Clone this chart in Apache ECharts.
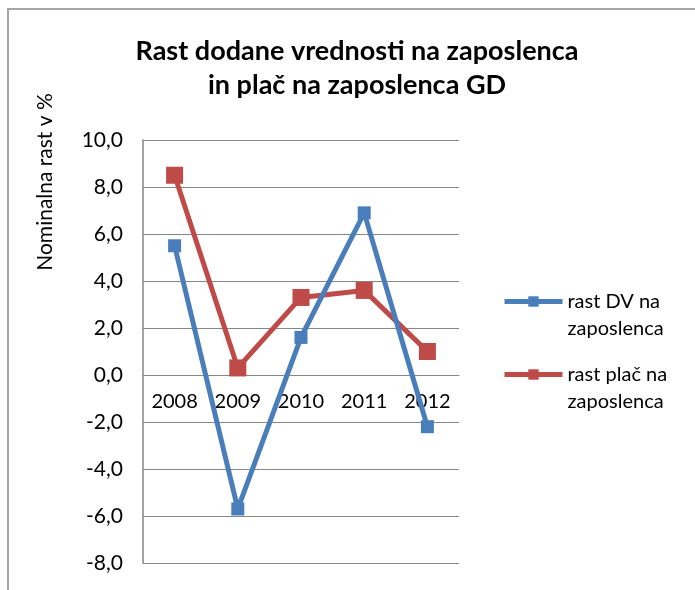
<!DOCTYPE html>
<html>
<head>
<meta charset="utf-8">
<script src="https://cdn.jsdelivr.net/npm/echarts@6/dist/echarts.min.js"></script>
<style>html,body{margin:0;padding:0;background:#fff;}#c{width:695px;height:590px;}</style>
</head>
<body>
<div id="c"></div>
<script>
const titleLines = ['Rast dodane vrednosti na zaposlenca', 'in plač na zaposlenca GD'];
const yAxisTitle = 'Nominalna rast v %';
const years = ['2008', '2009', '2010', '2011', '2012'];
const seriesNames = ['rast DV na zaposlenca', 'rast plač na zaposlenca'];
const rastDV = [5.5, -5.7, 1.6, 6.9, -2.2];
const rastPlac = [8.5, 0.3, 3.3, 3.6, 1.0];
const yMin = -8, yMax = 10, yStep = 2;

const FONT = 'Lato';
const GRID = {left: 143, right: 236, top: 140, bottom: 27};
const plotH = 590 - GRID.top - GRID.bottom;
const zeroOffset = -plotH * (0 - yMin) / (yMax - yMin);

const chart = echarts.init(document.getElementById('c'), null, {renderer: 'canvas'});
const legendText = {color: '#000', fontFamily: FONT, fontSize: 20, lineHeight: 27};
const legendFmt = n => '\n' + n.replace(' zaposlenca', '\nzaposlenca');
const legendCommon = {
  orient: 'vertical', itemWidth: 58, itemHeight: 13, itemGap: 0, padding: 0,
  formatter: legendFmt, textStyle: legendText, lineStyle: {width: 5}
};
chart.setOption({
  animation: false,
  backgroundColor: '#fff',
  title: {
    text: titleLines.join('\n'),
    left: 352, top: 29, textAlign: 'center',
    textStyle: {fontFamily: FONT, fontWeight: 'bold', fontSize: 27, lineHeight: 34, color: '#000'}
  },
  graphic: [
    {type: 'rect', shape: {x: 8, y: 9, width: 700, height: 600}, style: {fill: 'none', stroke: '#a6a6a6', lineWidth: 2}, silent: true},
    {type: 'text', x: 45, y: 182, rotation: Math.PI / 2,
     style: {text: yAxisTitle, fontFamily: FONT, fontSize: 21, fill: '#000', align: 'center', verticalAlign: 'middle'}}
  ],
  legend: [
    Object.assign({data: [seriesNames[0]], left: 502, top: 261}, legendCommon),
    Object.assign({data: [seriesNames[1]], left: 502, top: 334}, legendCommon)
  ],
  grid: Object.assign({containLabel: false}, GRID),
  xAxis: {
    type: 'category', data: years, boundaryGap: true, position: 'bottom', offset: zeroOffset,
    axisLine: {show: true, onZero: false, lineStyle: {color: '#868686', width: 1}},
    axisTick: {show: false},
    axisLabel: {fontFamily: FONT, fontSize: 20, color: '#000', margin: 17, interval: 0, hideOverlap: false},
    splitLine: {show: false}
  },
  yAxis: {
    type: 'value', min: yMin, max: yMax, interval: yStep,
    axisLine: {show: true, lineStyle: {color: '#868686', width: 1.5}},
    axisTick: {show: false},
    axisLabel: {fontFamily: FONT, fontSize: 21, color: '#000', margin: 20,
      formatter: v => v.toFixed(1).replace('.', ',')},
    splitLine: {show: true, lineStyle: {color: '#868686', width: 1}}
  },
  series: [
    {name: seriesNames[0], type: 'line', data: rastDV, symbol: 'rect', symbolSize: 13,
     lineStyle: {width: 5, color: '#4A7EBB'}, itemStyle: {color: '#4A7EBB'}, z: 3},
    {name: seriesNames[1], type: 'line', data: rastPlac, symbol: 'rect', symbolSize: 17,
     lineStyle: {width: 5, color: '#BE4B48'}, itemStyle: {color: '#BE4B48'}, z: 2}
  ]
});
</script>
</body>
</html>
